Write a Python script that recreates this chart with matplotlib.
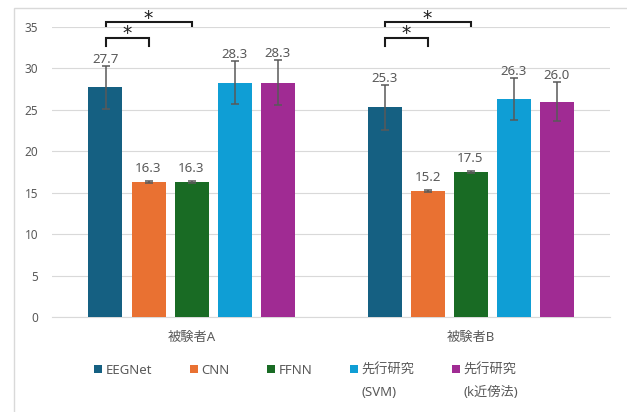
import matplotlib
matplotlib.use('Agg')
import matplotlib.pyplot as plt
import numpy as np
from matplotlib.patches import Rectangle

plt.rcParams['font.family'] = ['Noto Sans', 'Noto Sans CJK JP', 'DejaVu Sans']

# ---------------- data ----------------
categories = ['被験者A', '被験者B']
series_names = ['EEGNet', 'CNN', 'FFNN', '先行研究', '先行研究']
series_sub = ['', '', '', '(SVM)', '(k近傍法)']
eegnet = [27.7, 25.3]
cnn = [16.3, 15.2]
ffnn = [16.3, 17.5]
svm = [28.3, 26.3]
knn = [28.3, 26.0]
eegnet_err = [2.6, 2.75]
cnn_err = [0.08, 0.08]
ffnn_err = [0.1, 0.1]
svm_err = [2.55, 2.55]
knn_err = [2.7, 2.35]
yticks = [0, 5, 10, 15, 20, 25, 30, 35]
# significance brackets: (series i, series j, label)
sig_pairs = [(0, 1, '*'), (0, 2, '*')]

values = [eegnet, cnn, ffnn, svm, knn]
errors = [eegnet_err, cnn_err, ffnn_err, svm_err, knn_err]
colors = ['#156082', '#E97132', '#196B24', '#0F9ED5', '#A02B93']

# ---------------- figure ----------------
W, H = 627, 412
fig = plt.figure(figsize=(W / 100, H / 100), dpi=100)
ax = fig.add_axes([52 / W, 1 - 317 / H, (610 - 52) / W, (317 - 27) / H])

# chart border
fig.patches.append(Rectangle((14 / W, -0.1), 1.2, 1.1 - 8 / H,
                             transform=fig.transFigure, fill=False,
                             edgecolor='#D9D9D9', linewidth=1.0))

x = np.arange(len(categories))
pitch = 43 / 279
width = 34 / 279
gray = '#595959'

handles = []
for i, (vals, errs, col) in enumerate(zip(values, errors, colors)):
    xs = x + (i - 2) * pitch
    b = ax.bar(xs, vals, width=width, color=col, zorder=3)
    handles.append(b)
    ax.errorbar(xs, vals, yerr=errs, fmt='none', ecolor=gray, elinewidth=1.1,
                capsize=2.9, capthick=1.1, zorder=4)
    for xv, v, e in zip(xs, vals, errs):
        ax.annotate(f'{v:.1f}', xy=(xv, max(v + e, v + 0.8)), xytext=(0, 2.2),
                    textcoords='offset points', ha='center', va='baseline',
                    fontsize=9.5, color=gray, zorder=5)

# significance brackets
bracket_levels = {1: (33.73, 32.7), 2: (35.6, 35.1)}
for c in x:
    for i, j, lab in sig_pairs:
        top, bot = bracket_levels[j]
        x1 = c + (i - 2) * pitch
        x2 = c + (j - 2) * pitch
        ax.plot([x1, x1, x2, x2], [bot, top, top, bot], color='#1a1a1a',
                lw=1.5, clip_on=False, zorder=6, solid_joinstyle='miter')
        ax.annotate(lab, xy=((x1 + x2) / 2, top), xytext=(0, -1.2),
                    textcoords='offset points', ha='center', va='baseline',
                    fontsize=13.5, color='#1a1a1a', family='DejaVu Sans',
                    annotation_clip=False)

ax.set_xlim(-0.5, 1.5)
ax.set_ylim(0, 35)
ax.set_yticks(yticks)
ax.set_xticks(x)
ax.set_xticklabels(categories, fontsize=9.5, color=gray)
ax.tick_params(axis='y', length=0, pad=10, labelsize=8.5, labelcolor=gray)
ax.tick_params(axis='x', length=0, pad=10)
ax.grid(axis='y', color='#D9D9D9', linewidth=0.8, zorder=0)
ax.set_axisbelow(True)
for s in ['left', 'right', 'top']:
    ax.spines[s].set_visible(False)
ax.spines['bottom'].set_color('#D9D9D9')
ax.spines['bottom'].set_linewidth(0.8)
ax.spines['bottom'].set_zorder(2)

# legend
fs = 9.5
fpx = fs * 100 / 72
leg = fig.legend(handles, series_names, loc='center left',
                 bbox_to_anchor=(94 / W, 1 - 370 / H), ncol=5, frameon=False,
                 fontsize=fs, labelcolor=gray, borderpad=0, borderaxespad=0,
                 handlelength=8 / fpx, handleheight=8 / fpx,
                 handletextpad=4 / fpx, columnspacing=37 / fpx)
fig.canvas.draw()
for t, sub in zip(leg.get_texts(), series_sub):
    if sub:
        bb = t.get_window_extent()
        ycen = (bb.y0 + bb.y1) / 2 - 22
        fig.text(bb.x0 / W, ycen / H, sub, ha='left', va='center',
                 fontsize=fs, color=gray)

fig.savefig('out.png', dpi=100)
